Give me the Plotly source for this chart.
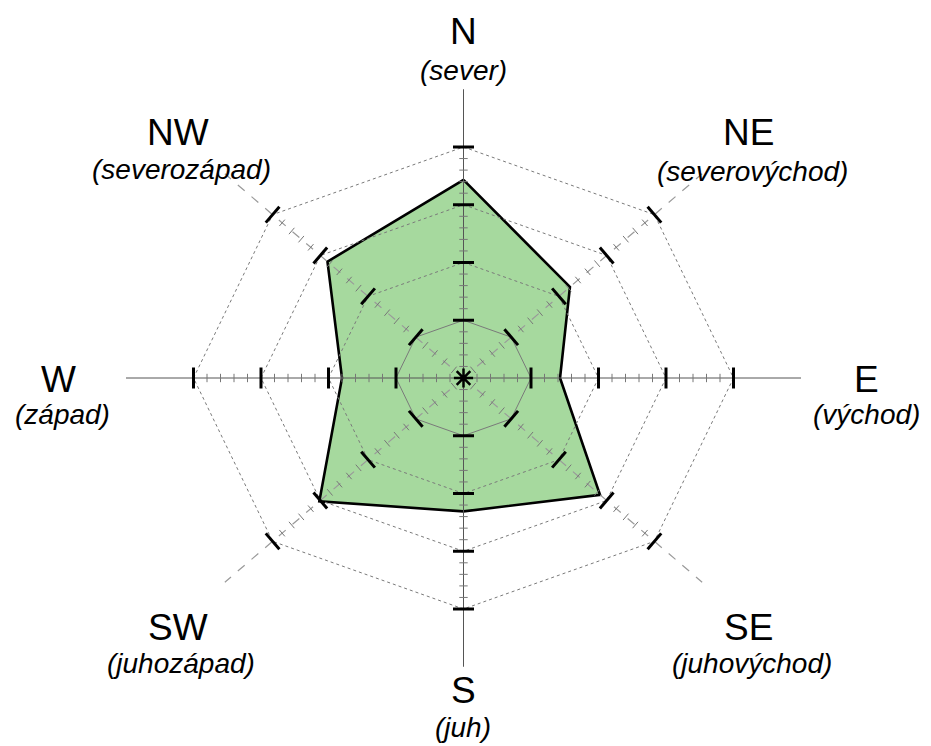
import numpy as np
import plotly.graph_objects as go

# ---------------- data ----------------
directions = ["N", "NE", "E", "SE", "S", "SW", "W", "NW"]
subtitles = ["(sever)", "(severovýchod)", "(východ)", "(juhovýchod)",
             "(juh)", "(juhozápad)", "(západ)", "(severozápad)"]
values = [3.43, 2.23, 1.43, 2.86, 2.31, 3.02, 1.80, 2.85]
ring_values = [1, 2, 3, 4]
minor_step = 0.2
axis_extent = 5

# ---------------- layout constants ----------------
OFF = 8                         # page body margin of the browser
W, H = 931 - OFF, 746 - OFF
CX, CY = 463.5 - OFF, 378.0 - OFF   # centre in figure pixels
SX, SY = 67.5, 57.75                # pixels per unit (x / y)

xr = [-CX / SX, (W - CX) / SX]
yr = [-(H - CY) / SY, CY / SY]

theta = np.deg2rad(np.arange(len(directions)) * 45.0)
sin_t, cos_t = np.sin(theta), np.cos(theta)
# screen rotation of perpendicular tick for each direction
phi = np.degrees(np.arctan2(-cos_t * SY, sin_t * SX)) + 90.0

fig = go.Figure()

# filled data polygon
vals = np.array(values)
px_ = np.append(vals * sin_t, vals[0] * sin_t[0])
py_ = np.append(vals * cos_t, vals[0] * cos_t[0])
fig.add_trace(go.Scatter(x=px_, y=py_, mode="lines", fill="toself",
                         fillcolor="#a6d99e",
                         line=dict(color="black", width=2.6),
                         hoverinfo="skip", showlegend=False))

# ring octagons
for i, rv in enumerate(ring_values):
    gx = np.append(rv * sin_t, rv * sin_t[0])
    gy = np.append(rv * cos_t, rv * cos_t[0])
    fig.add_trace(go.Scatter(x=gx, y=gy, mode="lines",
                             line=dict(color="#7a7a7a", width=1,
                                       dash="solid" if i == 0 else "dot"),
                             hoverinfo="skip", showlegend=False))

# diagonal axes (dashed)
dx, dy = [], []
for k in [1, 3, 5, 7]:
    dx += [0, axis_extent * sin_t[k], None]
    dy += [0, axis_extent * cos_t[k], None]
fig.add_trace(go.Scatter(x=dx, y=dy, mode="lines",
                         line=dict(color="#9a9a9a", width=1.2, dash="dash"),
                         hoverinfo="skip", showlegend=False))

# main axes (solid)
mx, my = [], []
for k in [0, 2]:
    mx += [-axis_extent * sin_t[k], axis_extent * sin_t[k], None]
    my += [-axis_extent * cos_t[k], axis_extent * cos_t[k], None]
fig.add_trace(go.Scatter(x=mx, y=my, mode="lines",
                         line=dict(color="#555555", width=1),
                         hoverinfo="skip", showlegend=False))

# minor ticks
minor_r = [r for r in np.arange(minor_step, max(ring_values), minor_step)
           if abs(r - round(r)) > 1e-6]
tx, ty, ta = [], [], []
for k in range(len(directions)):
    for r in minor_r:
        tx.append(r * sin_t[k]); ty.append(r * cos_t[k]); ta.append(phi[k])
fig.add_trace(go.Scatter(x=tx, y=ty, mode="markers",
                         marker=dict(symbol="line-ew", size=6, angle=ta,
                                     color="#777777",
                                     line=dict(color="#777777", width=1)),
                         hoverinfo="skip", showlegend=False))

# major ticks
tx, ty, ta = [], [], []
for k in range(len(directions)):
    for r in ring_values:
        tx.append(r * sin_t[k]); ty.append(r * cos_t[k]); ta.append(phi[k])
fig.add_trace(go.Scatter(x=tx, y=ty, mode="markers",
                         marker=dict(symbol="line-ew", size=15, angle=ta,
                                     color="black",
                                     line=dict(color="black", width=3)),
                         hoverinfo="skip", showlegend=False))

# centre asterisk
fig.add_trace(go.Scatter(x=[0], y=[0], mode="markers",
                         marker=dict(symbol="asterisk-open", size=16,
                                     color="black",
                                     line=dict(color="black", width=2.5)),
                         hoverinfo="skip", showlegend=False))

# labels (pixel positions in the reference page)
title_pos = [(463, 31), (748, 133), (866, 379), (748, 627),
             (463, 690), (178, 627), (58, 379), (178, 133)]
sub_pos = [(463, 71), (752, 171), (866, 414), (752, 663),
           (463, 727), (181, 663), (62, 414), (181, 170)]
ann = []
for i in range(len(directions)):
    tx_, ty_ = title_pos[i]
    sx_, sy_ = sub_pos[i]
    ann.append(dict(x=(tx_ - OFF) / W, y=1 - (ty_ - OFF) / H,
                    xref="paper", yref="paper",
                    text=directions[i], showarrow=False,
                    xanchor="center", yanchor="middle",
                    font=dict(family="Liberation Sans, Arial", size=37, color="black")))
    ann.append(dict(x=(sx_ - OFF) / W, y=1 - (sy_ - OFF) / H,
                    xref="paper", yref="paper",
                    text="<i>" + subtitles[i] + "</i>", showarrow=False,
                    xanchor="center", yanchor="middle",
                    font=dict(family="Liberation Sans, Arial", size=28, color="black")))

fig.update_layout(
    width=W, height=H,
    margin=dict(l=0, r=0, t=0, b=0),
    paper_bgcolor="white", plot_bgcolor="white",
    xaxis=dict(range=xr, visible=False, fixedrange=True),
    yaxis=dict(range=yr, visible=False, fixedrange=True),
    annotations=ann,
    showlegend=False,
)

fig.write_html("out.html")
